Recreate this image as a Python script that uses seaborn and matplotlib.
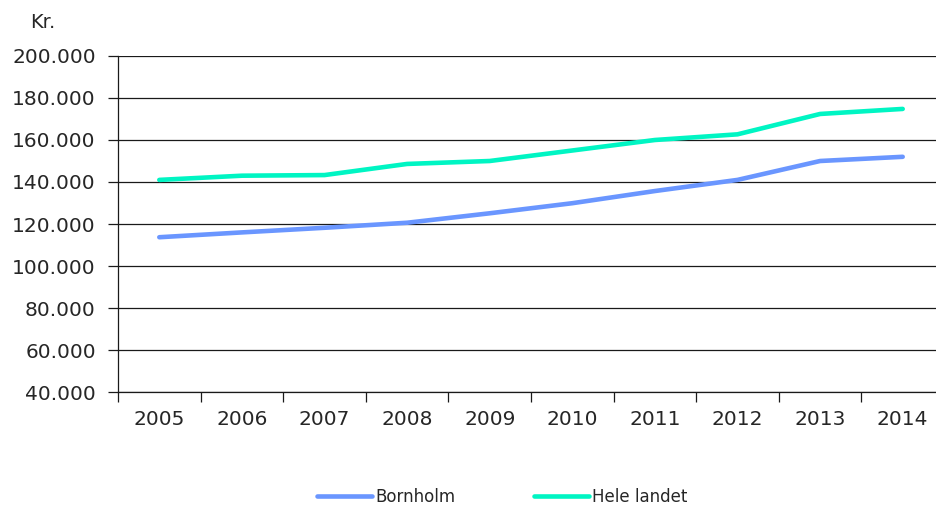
import pandas as pd
import seaborn as sns
import matplotlib.pyplot as plt
from matplotlib.ticker import FuncFormatter, MultipleLocator

years = [2005, 2006, 2007, 2008, 2009, 2010, 2011, 2012, 2013, 2014]
bornholm = [113700, 116000, 118200, 120600, 125100, 129900, 135700, 141000, 150000, 152000]
hele_landet = [141000, 143000, 143300, 148600, 150000, 155000, 160000, 162700, 172400, 174800]
series_names = ['Bornholm', 'Hele landet']
colors = ['#6a96ff', '#00f5c3']

df = pd.DataFrame({
    'aar': years * 2,
    'kr': bornholm + hele_landet,
    'omraade': [series_names[0]] * len(years) + [series_names[1]] * len(years),
})

sns.set_style('white')
plt.rcParams['font.family'] = ['DejaVu Sans']

fig = plt.figure(figsize=(9.37, 5.05), dpi=100)
ax = fig.add_axes([118 / 937, 113 / 505, 826 / 937, 336 / 505])

sns.lineplot(data=df, x='aar', y='kr', hue='omraade', palette=colors,
             linewidth=3.3, solid_capstyle='round', ax=ax, zorder=3)

# y axis
ax.set_ylim(40000, 200000)
ax.yaxis.set_major_locator(MultipleLocator(20000))
ax.yaxis.set_major_formatter(FuncFormatter(lambda v, p: f'{int(v):,}'.replace(',', '.')))
ax.yaxis.grid(True, color='#1a1a1a', linewidth=0.9)
ax.tick_params(axis='y', length=7, width=0.9, color='#1a1a1a', pad=9, labelsize=14.5, left=True)

# x axis - labels at centres, tick marks between categories
ax.set_xlim(2004.5, 2014.5)
ax.set_xticks(years)
ax.set_xticks([y + 0.5 for y in [2004] + years], minor=True)
ax.tick_params(axis='x', which='major', length=0, pad=13, labelsize=14.5)
ax.tick_params(axis='x', which='minor', length=7, width=0.9, color='#1a1a1a', bottom=True)

for s in ['top', 'right']:
    ax.spines[s].set_visible(False)
for s in ['left', 'bottom']:
    ax.spines[s].set_color('#1a1a1a')
    ax.spines[s].set_linewidth(0.9)

ax.set_xlabel('')
ax.set_ylabel('')

handles, labels = ax.get_legend_handles_labels()
ax.get_legend().remove()
fig.legend(handles, labels, loc='center', bbox_to_anchor=(502 / 937, 8 / 505),
           ncol=2, frameon=False, fontsize=12, handlelength=3.3,
           handletextpad=0.2, columnspacing=4.7)

fig.text(30 / 937, 1 - 22 / 505, 'Kr.', fontsize=14, va='center', ha='left')

fig.savefig('out.png', dpi=100)
